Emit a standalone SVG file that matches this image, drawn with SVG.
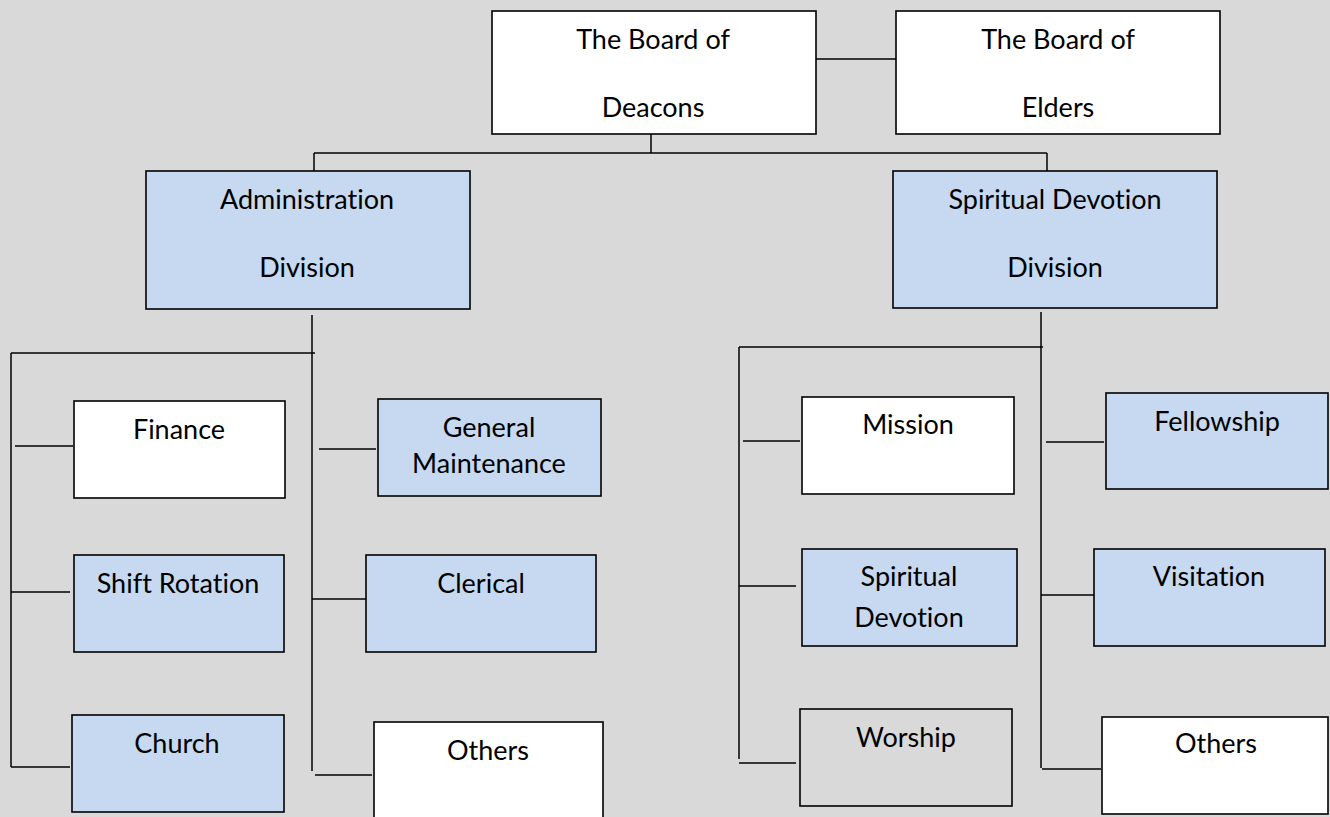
<svg xmlns="http://www.w3.org/2000/svg" width="1330" height="817" viewBox="0 0 1330 817">
<style>
.bg{fill:#d9d9d9}
.box{stroke:#000;stroke-width:1.6}
.w{fill:#ffffff}
.b{fill:#c6d9f0}
.g{fill:#d9d9d9}
.t{font-family:Lato,"Liberation Sans",sans-serif;font-size:27px;fill:#000;text-anchor:middle;font-variant-ligatures:none;font-feature-settings:"liga" 0}
.c line{stroke:#000;stroke-width:1.5}
</style>
<rect class="bg" x="0" y="0" width="1330" height="817"/>
<g id="connectors" class="c">
<line x1="808" y1="59" x2="896" y2="59"/>
<line x1="651" y1="134" x2="651" y2="153"/>
<line x1="314" y1="153" x2="1047" y2="153"/>
<line x1="314" y1="153" x2="314" y2="171"/>
<line x1="1047" y1="153" x2="1047" y2="171"/>
<line x1="312" y1="315" x2="312" y2="771"/>
<line x1="11" y1="353" x2="315" y2="353"/>
<line x1="11" y1="353" x2="11" y2="767"/>
<line x1="15" y1="446" x2="73" y2="446"/>
<line x1="11" y1="592" x2="70" y2="592"/>
<line x1="11" y1="767" x2="70" y2="767"/>
<line x1="319" y1="449" x2="376" y2="449"/>
<line x1="312" y1="599" x2="370" y2="599"/>
<line x1="315" y1="775" x2="372" y2="775"/>
<line x1="1041" y1="312" x2="1041" y2="768"/>
<line x1="739" y1="347" x2="1043" y2="347"/>
<line x1="739" y1="347" x2="739" y2="759"/>
<line x1="743" y1="441" x2="800" y2="441"/>
<line x1="739" y1="586" x2="796" y2="586"/>
<line x1="739" y1="763" x2="796" y2="763"/>
<line x1="1046" y1="442" x2="1104" y2="442"/>
<line x1="1041" y1="595" x2="1098" y2="595"/>
<line x1="1042" y1="769" x2="1101" y2="769"/>
</g>
<g id="deacons"><rect class="box w" x="492" y="11" width="324" height="123"/><text class="t" x="653" y="49">The Board of</text><text class="t" x="653" y="117">Deacons</text></g>
<g id="elders"><rect class="box w" x="896" y="11" width="324" height="123"/><text class="t" x="1058" y="49">The Board of</text><text class="t" x="1058" y="117">Elders</text></g>
<g id="admin"><rect class="box b" x="146" y="171" width="324" height="138"/><text class="t" x="307" y="209">Administration</text><text class="t" x="307" y="277">Division</text></g>
<g id="spiritual-division"><rect class="box b" x="893" y="171" width="324" height="137"/><text class="t" x="1055" y="209">Spiritual Devotion</text><text class="t" x="1055" y="277">Division</text></g>
<g id="finance"><rect class="box w" x="74" y="401" width="211" height="97"/><text class="t" x="179" y="439">Finance</text></g>
<g id="general-maintenance"><rect class="box b" x="378" y="399" width="223" height="97"/><text class="t" x="489" y="437">General</text><text class="t" x="489" y="473">Maintenance</text></g>
<g id="shift-rotation"><rect class="box b" x="74" y="555" width="210" height="97"/><text class="t" x="178" y="593">Shift Rotation</text></g>
<g id="clerical"><rect class="box b" x="366" y="555" width="230" height="97"/><text class="t" x="481" y="593">Clerical</text></g>
<g id="church"><rect class="box b" x="72" y="715" width="212" height="97"/><text class="t" x="177" y="753">Church</text></g>
<g id="others-left"><rect class="box w" x="374" y="722" width="229" height="100"/><text class="t" x="488" y="760">Others</text></g>
<g id="mission"><rect class="box w" x="802" y="397" width="212" height="97"/><text class="t" x="908" y="434">Mission</text></g>
<g id="fellowship"><rect class="box b" x="1106" y="393" width="222" height="96"/><text class="t" x="1217" y="431">Fellowship</text></g>
<g id="spiritual-devotion"><rect class="box b" x="802" y="549" width="215" height="97"/><text class="t" x="909" y="586">Spiritual</text><text class="t" x="909" y="627">Devotion</text></g>
<g id="visitation"><rect class="box b" x="1094" y="549" width="231" height="97"/><text class="t" x="1209" y="586">Visitation</text></g>
<g id="worship"><rect class="box g" x="800" y="709" width="212" height="97"/><text class="t" x="906" y="747">Worship</text></g>
<g id="others-right"><rect class="box w" x="1102" y="717" width="226" height="97"/><text class="t" x="1216" y="753">Others</text></g>
</svg>
